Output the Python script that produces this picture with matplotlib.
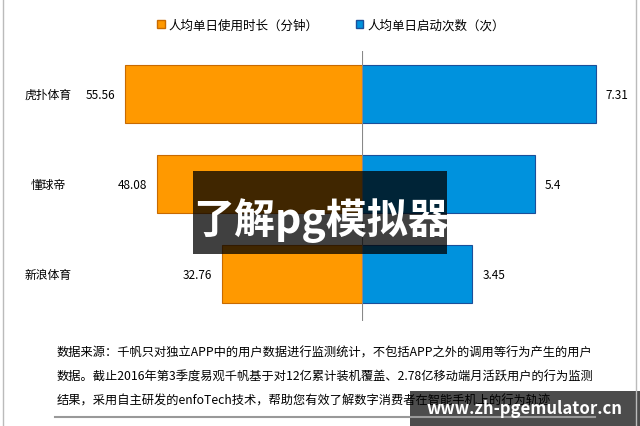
import matplotlib.pyplot as plt
import matplotlib.transforms as mtransforms
from matplotlib.patches import Patch, Rectangle
from matplotlib.lines import Line2D

plt.rcParams['font.family'] = ['Noto Sans CJK SC', 'DejaVu Sans']

# data
apps = ['虎扑体育', '懂球帝', '新浪体育']
minutes = [55.56, 48.08, 32.76]
launches = [7.31, 5.4, 3.45]
series_names = ['人均单日使用时长（分钟）', '人均单日启动次数（次）']
note_lines = [
    '数据来源：千帆只对独立APP中的用户数据进行监测统计，不包括APP之外的调用等行为产生的用户',
    '数据。截止2016年第3季度易观千帆基于对12亿累计装机覆盖、2.78亿移动端月活跃用户的行为监测',
    '结果，采用自主研发的enfoTech技术，帮助您有效了解数字消费者在智能手机上的行为轨迹',
]

orange, orange_edge = '#FF9900', '#C86A00'
blue, blue_edge = '#0092DD', '#1B4F9A'

W, H = 640, 427
fig = plt.figure(figsize=(W / 100, H / 100), dpi=100)

def px_box(x0, x1, ytop, ybot):
    return [x0 / W, 1 - ybot / H, (x1 - x0) / W, (ybot - ytop) / H]

ax_l = fig.add_axes(px_box(40, 362, 52, 322))
ax_r = fig.add_axes(px_box(362, 620, 52, 322))

pos = list(range(len(apps)))
ax_l.barh(pos, minutes, height=0.65, color=orange, edgecolor=orange_edge, linewidth=0.8)
ax_r.barh(pos, launches, height=0.65, color=blue, edgecolor=blue_edge, linewidth=0.8)

ax_l.set_xlim(75.4, 0)
ax_r.set_xlim(0, 8.06)
for ax in (ax_l, ax_r):
    ax.set_ylim(2.52, -0.48)
    ax.set_xticks([])
    ax.set_yticks([])
    for s in ax.spines.values():
        s.set_visible(False)
    ax.patch.set_alpha(0)
ax_r.axvline(0, color='#888888', lw=0.8)

for i, v in enumerate(minutes):
    ax_l.annotate(str(v), xy=(v, i), xytext=(-7, 0), textcoords='offset points',
                  ha='right', va='center', fontsize=8.5)
for i, v in enumerate(launches):
    ax_r.annotate(str(v), xy=(v, i), xytext=(7, 0), textcoords='offset points',
                  ha='left', va='center', fontsize=8.5)

trans = mtransforms.blended_transform_factory(fig.transFigure, ax_l.transData)
for i, name in enumerate(apps):
    ax_l.text(48 / W, i, name, transform=trans, ha='center', va='center', fontsize=8.5)

handles = [Patch(facecolor=orange, edgecolor=orange_edge),
           Patch(facecolor=blue, edgecolor=blue_edge)]
fig.legend(handles, series_names, loc='center', bbox_to_anchor=(0.517, 1 - 26 / H),
           ncol=2, frameon=False, fontsize=9, handlelength=0.6, handleheight=0.6,
           handletextpad=0.3, columnspacing=3.0)

for k, line in enumerate(note_lines):
    fig.text(57 / W, 1 - (353 + 24 * k) / H, line, ha='left', va='center', fontsize=8.8)

fig.add_artist(Line2D([55 / W, 595 / W], [1 - 418 / H] * 2, color='#999999', lw=1.5))
fig.add_artist(Line2D([3 / W, 3 / W], [0, 1], color='#bbbbbb', lw=1))
fig.add_artist(Line2D([636 / W, 636 / W], [0, 1], color='#bbbbbb', lw=1))

# overlay banners
fig.add_artist(Rectangle((193 / W, 1 - 255 / H), 254 / W, 83 / H,
                         transform=fig.transFigure, facecolor='black', alpha=0.75, lw=0))
fig.text(321 / W, 1 - 221 / H, '了解pg模拟器', ha='center', va='center',
         fontsize=29.5, fontweight='bold', color='white')
fig.add_artist(Rectangle((410 / W, 0), 230 / W, 35 / H,
                         transform=fig.transFigure, facecolor='black', alpha=0.7, lw=0))
fig.text(525 / W, 1 - 409 / H, 'www.zh-pgemulator.cn', ha='center', va='center',
         fontsize=12, fontweight='bold', color='white')

fig.savefig('out.png', dpi=100)
